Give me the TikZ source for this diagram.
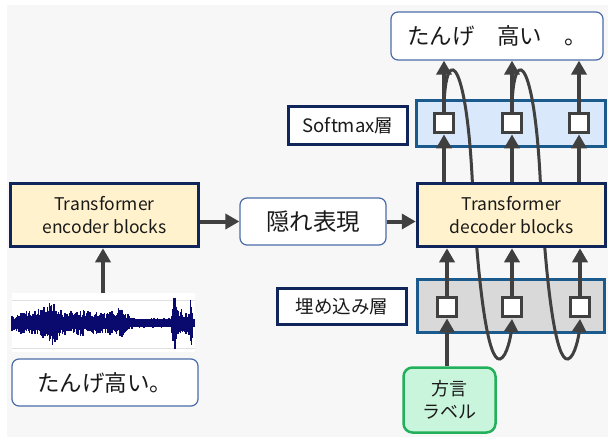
\documentclass[tikz,border=0pt]{standalone}
\usepackage{fontspec}
\setmainfont{Noto Sans CJK JP}
\usetikzlibrary{arrows.meta}
\definecolor{bgc}{HTML}{F7F7F7}
\definecolor{arrowc}{HTML}{404040}
\definecolor{rbord}{HTML}{4A6CA8}
\definecolor{navyc}{HTML}{10265A}
\definecolor{layerb}{HTML}{1B5A8C}
\definecolor{yell}{HTML}{FFF2CC}
\definecolor{lblue}{HTML}{DAE8FC}
\definecolor{lgray}{HTML}{D9D9D9}
\definecolor{greenf}{HTML}{C9F5DC}
\definecolor{greenb}{HTML}{22B05B}
\definecolor{wavec}{HTML}{0A0A6E}
\definecolor{txtc}{HTML}{1A1A1A}
\begin{document}
\begin{tikzpicture}[x=1pt,y=-1pt,
  every node/.style={text=txtc, inner sep=0pt},
  rbox/.style={draw=rbord, line width=1.2pt, fill=white, rounded corners=7pt},
  block/.style={draw=navyc, line width=3.5pt, fill=yell, align=center, font=\fontsize{17.5}{23}\selectfont},
  layerbox/.style={draw=layerb, line width=3.5pt},
  lbl/.style={draw=navyc, line width=3pt, fill=white, font=\fontsize{18.5}{22}\selectfont},
  sq/.style={draw=arrowc, line width=3.8pt, fill=white, minimum size=19pt},
  arr/.style={draw=arrowc, line width=4pt, -{Triangle[length=14pt,width=15pt]}},
  curv/.style={draw=arrowc, line width=3pt, -{Triangle[length=13pt,width=14pt]}}
]
\useasboundingbox (0,0) rectangle (608,437);
\fill[bgc] (7,5) rectangle (608,437);

% layers
\node[layerbox, fill=lblue, minimum width=189pt, minimum height=46pt] (sml) at (511,123.5) {};
\node[layerbox, fill=lgray, minimum width=187pt, minimum height=53pt] (eml) at (511,306) {};

% feedback curves
\draw[curv] (444,111.5) .. controls (444,48) and (465,48) .. (472,175) .. controls (478,290) and (488,362) .. (500,359) .. controls (507,357) and (511,335) .. (512,319);
\draw[curv] (512,111.5) .. controls (512,48) and (533,48) .. (540,175) .. controls (546,290) and (556,362) .. (568,359) .. controls (575,357) and (579,335) .. (580,319);

% main blocks
\node[block, minimum width=188pt, minimum height=63pt] (dec) at (511.5,215) {Transformer\\decoder blocks};
\node[block, minimum width=188pt, minimum height=63pt] (enc) at (104.5,215) {Transformer\\encoder blocks};

% output and labels
\node[rbox, minimum width=212pt, minimum height=48pt, font=\fontsize{22.5}{26}\selectfont] (out) at (497,36) {たんげ　高い　。};
\node[lbl, minimum width=119pt, minimum height=38pt] (smlab) at (348,125.5) {Softmax層};
\node[lbl, minimum width=129pt, minimum height=36pt] (emlab) at (342,306.5) {埋め込み層};
\node[draw=greenb, line width=2.5pt, fill=greenf, rounded corners=9pt, minimum width=92pt, minimum height=65pt, align=center, font=\fontsize{18}{23}\selectfont] (dial) at (449.5,400) {方言\\ラベル};
\node[rbox, minimum width=146pt, minimum height=47pt, font=\fontsize{23.5}{26}\selectfont] (hid) at (313,221.5) {隠れ表現};
\node[rbox, minimum width=186pt, minimum height=47pt, font=\fontsize{22.5}{26}\selectfont] (txt) at (105,382.5) {たんげ高い。};

% squares
\node[sq] (s1) at (444,123) {};
\node[sq] (s2) at (512,123) {};
\node[sq] (s3) at (579,123) {};
\node[sq] (e1) at (447,307) {};
\node[sq] (e2) at (512,307) {};
\node[sq] (e3) at (580,307) {};

% waveform
\fill[white] (12,293) rectangle (195,352);
\draw[gray!25, line width=0.8pt] (12,300) -- (195,300);
\draw[gray!25, line width=0.8pt] (12,348) -- (195,348);
\coordinate (wave) at (103,293);
\pgfmathsetseed{11}
\foreach \x in {12,13.1,...,195}{
  \pgfmathsetmacro\a{5+10*exp(-min(((\x-40)/28)^2,30))+9*exp(-min(((\x-52)/7)^2,30))+7*exp(-min(((\x-85)/22)^2,30))+9*exp(-min(((\x-120)/9)^2,30))+3*exp(-min(((\x-105)/10)^2,30))+22*exp(-min(((\x-174)/2)^2,30))+10*exp(-min(((\x-178)/5)^2,30))+19*exp(-min(((\x-191)/1.8)^2,30))+7*exp(-min(((\x-186)/5)^2,30))}
  \pgfmathsetmacro\u{\a*(0.45+0.55*rnd)}
  \pgfmathsetmacro\d{\a*(0.45+0.55*rnd)}
  \draw[wavec, line width=1.4pt] (\x,323-\u) -- (\x,323+\d);
}
\fill[wavec] (12,319) rectangle (195,327);

% arrows
\draw[arr] (s1.north) -- (s1.north |- out.south);
\draw[arr] (s2.north) -- (s2.north |- out.south);
\draw[arr] (s3.north) -- (s3.north |- out.south);
\draw[arr] (s1.south |- dec.north) -- (s1.south);
\draw[arr] (s2.south |- dec.north) -- (s2.south);
\draw[arr] (s3.south |- dec.north) -- (s3.south);
\draw[arr] (e1.north) -- (e1.north |- dec.south);
\draw[arr] (e2.north) -- (e2.north |- dec.south);
\draw[arr] (e3.north) -- (e3.north |- dec.south);
\draw[arr] (e1.south |- dial.north) -- (e1.south);
\draw[arr] (enc.east |- hid.west) -- (hid.west);
\draw[arr] (hid.east) -- (hid.east -| dec.west);
\draw[arr] (wave) -- (wave |- enc.south);
\end{tikzpicture}
\end{document}
